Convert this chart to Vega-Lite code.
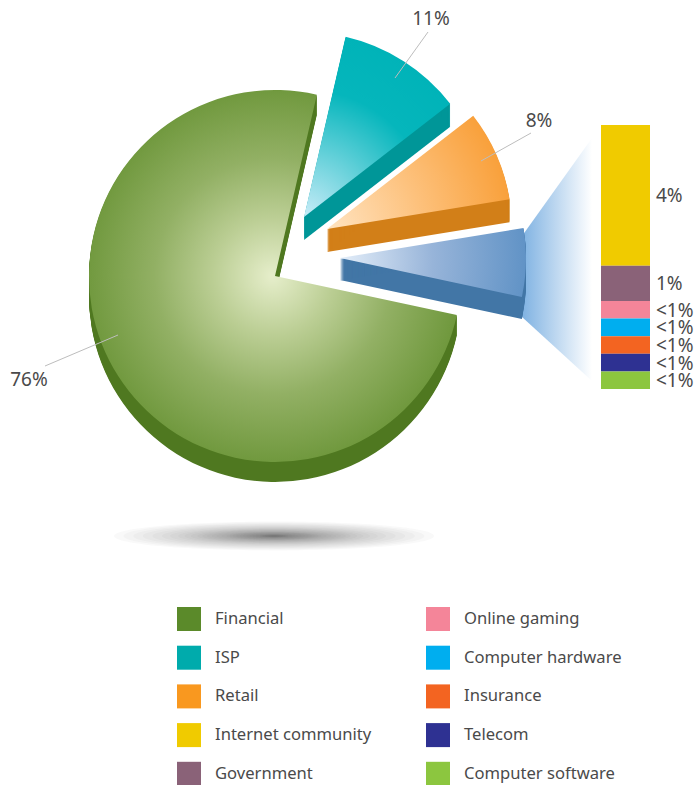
{
  "$schema": "https://vega.github.io/schema/vega-lite/v6.json",
  "width": 694,
  "height": 785,
  "padding": 0,
  "autosize": {"type": "none"},
  "background": "white",
  "config": {"view": {"stroke": null}, "font": "Noto Sans"},
  "data": {"name": "slices"},
  "datasets": {
    "slices": [
      {"sector": "ISP", "order": 1, "share": 11, "label": "11%", "levels": [1,2,3,4,5,6,7,8,9,10,11,12,13,14,15,16,17,18,19,20,21,22,23]},
      {"sector": "Retail", "order": 2, "share": 8, "label": "8%", "levels": [1,2,3,4,5,6,7,8,9,10,11,12,13,14,15,16,17,18,19,20,21,22,23]},
      {"sector": "Other", "order": 3, "share": 6, "label": "", "levels": [1,2,3,4,5,6,7,8,9,10,11,12,13,14,15,16,17,18,19,20,21,22]},
      {"sector": "Financial", "order": 4, "share": 76, "label": "76%", "levels": [1,2,3,4,5,6,7,8,9,10,11,12,13,14,15,16,17,18,19,20]}
    ],
    "segments": [
      {"sector": "Internet community", "order": 1, "share": 4, "label": "4%"},
      {"sector": "Government", "order": 2, "share": 1, "label": "1%"},
      {"sector": "Online gaming", "order": 3, "share": 0.5, "label": "<1%"},
      {"sector": "Computer hardware", "order": 4, "share": 0.5, "label": "<1%"},
      {"sector": "Insurance", "order": 5, "share": 0.5, "label": "<1%"},
      {"sector": "Telecom", "order": 6, "share": 0.5, "label": "<1%"},
      {"sector": "Computer software", "order": 7, "share": 0.5, "label": "<1%"}
    ],
    "fan": [
      {"at": 522, "upper": 236, "lower": 317},
      {"at": 592, "upper": 138, "lower": 381}
    ],
    "shadow": [
      {"spread": 0.02},{"spread": 0.03},{"spread": 0.04},{"spread": 0.05},{"spread": 0.06},
      {"spread": 0.07},{"spread": 0.08},{"spread": 0.09},{"spread": 0.1},{"spread": 0.12},
      {"spread": 0.14},{"spread": 0.16},{"spread": 0.18},{"spread": 0.2},{"spread": 0.22},
      {"spread": 0.24},{"spread": 0.26},{"spread": 0.28},{"spread": 0.3},{"spread": 0.33},
      {"spread": 0.36},{"spread": 0.39},{"spread": 0.42},{"spread": 0.45},{"spread": 0.48},
      {"spread": 0.52},{"spread": 0.56},{"spread": 0.6},{"spread": 0.65},{"spread": 0.7},
      {"spread": 0.76},{"spread": 0.82},{"spread": 0.88},{"spread": 0.94},{"spread": 1}
    ]
  },
  "transform": [
    {"stack": "share", "sort": [{"field": "order", "order": "ascending"}], "as": ["t0", "t1"]}
  ],
  "resolve": {"scale": {"y": "independent"}},
  "layer": [
    {
      "data": {"name": "shadow"},
      "mark": {"type": "point", "filled": true, "strokeWidth": 0, "opacity": 0.03, "color": "#3e3e4a", "shape": "M-1,0A1,0.09 0 1,0 1,0A1,0.09 0 1,0 -1,0Z"},
      "encoding": {
        "x": {"datum": 274, "type": "quantitative", "scale": {"domain": [0, 694], "range": [0, 694]}, "axis": null},
        "y": {"datum": 536, "type": "quantitative", "scale": {"domain": [0, 785], "range": [0, 785]}, "axis": null},
        "size": {"field": "spread", "type": "quantitative", "scale": {"type": "pow", "exponent": 2, "domain": [0, 1], "range": [0, 102400]}, "legend": null}
      }
    },
    {
      "data": {"name": "fan"},
      "mark": {"type": "area", "color": {"gradient": "linear", "x1": 0, "y1": 0, "x2": 1, "y2": 0, "stops": [{"offset": 0, "color": "#7fb2e2"}, {"offset": 1, "color": "#ffffff"}]}},
      "encoding": {
        "x": {"field": "at", "type": "quantitative", "scale": {"domain": [0, 694], "range": [0, 694]}, "axis": null},
        "y": {"field": "upper", "type": "quantitative", "stack": null, "scale": {"domain": [0, 785], "range": [0, 785]}, "axis": null},
        "y2": {"field": "lower"}
      }
    },
    {
      "transform": [{"filter": "datum.sector === 'Financial'"}, {"flatten": ["levels"]}],
      "mark": {"type": "arc", "outerRadius": 186, "color": "#4f7820"},
      "encoding": {
        "x": {"datum": 275, "type": "quantitative", "scale": {"domain": [0, 694], "range": [0, 694]}, "axis": null},
        "y": {"field": "levels", "type": "quantitative", "stack": null, "scale": {"domain": [-276, 509], "range": [0, 785]}, "axis": null},
        "theta": {"field": "t0", "type": "quantitative", "stack": null, "scale": {"domain": [0, 101], "range": [0.2269, 6.5101]}},
        "theta2": {"field": "t1"}
      }
    },
    {
      "transform": [{"filter": "datum.sector === 'Financial'"}],
      "mark": {"type": "arc", "outerRadius": 186, "color": {"gradient": "radial", "x1": 0.5, "y1": 0.5, "r1": 0, "x2": 0.5, "y2": 0.5, "r2": 0.53, "stops": [{"offset": 0, "color": "#e6eecb"}, {"offset": 0.3, "color": "#bbce94"}, {"offset": 0.6, "color": "#92b064"}, {"offset": 1, "color": "#6b9538"}]}},
      "encoding": {
        "x": {"datum": 275, "type": "quantitative", "scale": {"domain": [0, 694], "range": [0, 694]}, "axis": null},
        "y": {"datum": 276, "type": "quantitative", "scale": {"domain": [0, 785], "range": [0, 785]}, "axis": null},
        "theta": {"field": "t0", "type": "quantitative", "stack": null, "scale": {"domain": [0, 101], "range": [0.2269, 6.5101]}},
        "theta2": {"field": "t1"}
      }
    },
    {
      "transform": [{"filter": "datum.sector === 'ISP'"}, {"flatten": ["levels"]}],
      "mark": {"type": "arc", "outerRadius": 185, "color": "#009698"},
      "encoding": {
        "x": {"datum": 304, "type": "quantitative", "scale": {"domain": [0, 694], "range": [0, 694]}, "axis": null},
        "y": {"field": "levels", "type": "quantitative", "stack": null, "scale": {"domain": [-217, 568], "range": [0, 785]}, "axis": null},
        "theta": {"field": "t0", "type": "quantitative", "stack": null, "scale": {"domain": [0, 101], "range": [0.2269, 6.5101]}},
        "theta2": {"field": "t1"}
      }
    },
    {
      "transform": [{"filter": "datum.sector === 'ISP'"}],
      "mark": {"type": "arc", "outerRadius": 185, "color": {"gradient": "radial", "x1": 0.1, "y1": 1, "r1": 0, "x2": 0.1, "y2": 1, "r2": 1.04, "stops": [{"offset": 0, "color": "#c8ecf8"}, {"offset": 0.68, "color": "#05b6bc"}, {"offset": 1, "color": "#00b3b8"}]}},
      "encoding": {
        "x": {"datum": 304, "type": "quantitative", "scale": {"domain": [0, 694], "range": [0, 694]}, "axis": null},
        "y": {"datum": 217, "type": "quantitative", "scale": {"domain": [0, 785], "range": [0, 785]}, "axis": null},
        "theta": {"field": "t0", "type": "quantitative", "stack": null, "scale": {"domain": [0, 101], "range": [0.2269, 6.5101]}},
        "theta2": {"field": "t1"}
      }
    },
    {
      "transform": [{"filter": "datum.sector === 'Retail'"}, {"flatten": ["levels"]}],
      "mark": {"type": "arc", "outerRadius": 185, "color": "#d27f18"},
      "encoding": {
        "x": {"datum": 327, "type": "quantitative", "scale": {"domain": [0, 694], "range": [0, 694]}, "axis": null},
        "y": {"field": "levels", "type": "quantitative", "stack": null, "scale": {"domain": [-229, 556], "range": [0, 785]}, "axis": null},
        "theta": {"field": "t0", "type": "quantitative", "stack": null, "scale": {"domain": [0, 101], "range": [0.2269, 6.5101]}},
        "theta2": {"field": "t1"}
      }
    },
    {
      "transform": [{"filter": "datum.sector === 'Retail'"}],
      "mark": {"type": "arc", "outerRadius": 185, "color": {"gradient": "radial", "x1": 0, "y1": 0.82, "r1": 0, "x2": 0, "y2": 0.82, "r2": 1.01, "stops": [{"offset": 0, "color": "#ffe4c2"}, {"offset": 0.5, "color": "#fdc27e"}, {"offset": 1, "color": "#f9a13c"}]}},
      "encoding": {
        "x": {"datum": 327, "type": "quantitative", "scale": {"domain": [0, 694], "range": [0, 694]}, "axis": null},
        "y": {"datum": 229, "type": "quantitative", "scale": {"domain": [0, 785], "range": [0, 785]}, "axis": null},
        "theta": {"field": "t0", "type": "quantitative", "stack": null, "scale": {"domain": [0, 101], "range": [0.2269, 6.5101]}},
        "theta2": {"field": "t1"}
      }
    },
    {
      "transform": [{"filter": "datum.sector === 'Other'"}, {"flatten": ["levels"]}],
      "mark": {"type": "arc", "outerRadius": 186, "color": "#4276a6"},
      "encoding": {
        "x": {"datum": 340, "type": "quantitative", "scale": {"domain": [0, 694], "range": [0, 694]}, "axis": null},
        "y": {"field": "levels", "type": "quantitative", "stack": null, "scale": {"domain": [-258, 527], "range": [0, 785]}, "axis": null},
        "theta": {"field": "t0", "type": "quantitative", "stack": null, "scale": {"domain": [0, 101], "range": [0.2269, 6.5101]}},
        "theta2": {"field": "t1"}
      }
    },
    {
      "transform": [{"filter": "datum.sector === 'Other'"}],
      "mark": {"type": "arc", "outerRadius": 186, "color": {"gradient": "radial", "x1": 0, "y1": 0.49, "r1": 0, "x2": 0, "y2": 0.49, "r2": 1, "stops": [{"offset": 0, "color": "#e4eef9"}, {"offset": 0.5, "color": "#97b4d9"}, {"offset": 1, "color": "#6193c6"}]}},
      "encoding": {
        "x": {"datum": 340, "type": "quantitative", "scale": {"domain": [0, 694], "range": [0, 694]}, "axis": null},
        "y": {"datum": 258, "type": "quantitative", "scale": {"domain": [0, 785], "range": [0, 785]}, "axis": null},
        "theta": {"field": "t0", "type": "quantitative", "stack": null, "scale": {"domain": [0, 101], "range": [0.2269, 6.5101]}},
        "theta2": {"field": "t1"}
      }
    },
    {
      "transform": [{"filter": "datum.sector === 'ISP'"}],
      "mark": {"type": "rule", "color": "#bdbdbd", "strokeWidth": 1},
      "encoding": {
        "x": {"datum": 395, "type": "quantitative", "scale": {"domain": [0, 694], "range": [0, 694]}, "axis": null},
        "x2": {"datum": 428},
        "y": {"datum": 78, "type": "quantitative", "scale": {"domain": [0, 785], "range": [0, 785]}, "axis": null},
        "y2": {"datum": 32}
      }
    },
    {
      "transform": [{"filter": "datum.sector === 'Retail'"}],
      "mark": {"type": "rule", "color": "#bdbdbd", "strokeWidth": 1},
      "encoding": {
        "x": {"datum": 481, "type": "quantitative", "scale": {"domain": [0, 694], "range": [0, 694]}, "axis": null},
        "x2": {"datum": 531},
        "y": {"datum": 161, "type": "quantitative", "scale": {"domain": [0, 785], "range": [0, 785]}, "axis": null},
        "y2": {"datum": 133}
      }
    },
    {
      "transform": [{"filter": "datum.sector === 'Financial'"}],
      "mark": {"type": "rule", "color": "#bdbdbd", "strokeWidth": 1},
      "encoding": {
        "x": {"datum": 118, "type": "quantitative", "scale": {"domain": [0, 694], "range": [0, 694]}, "axis": null},
        "x2": {"datum": 45},
        "y": {"datum": 335, "type": "quantitative", "scale": {"domain": [0, 785], "range": [0, 785]}, "axis": null},
        "y2": {"datum": 366}
      }
    },
    {
      "transform": [{"filter": "datum.sector === 'ISP'"}],
      "mark": {"type": "text", "fontSize": 19, "color": "#4a4a4a", "align": "center", "baseline": "middle"},
      "encoding": {
        "x": {"datum": 431, "type": "quantitative", "scale": {"domain": [0, 694], "range": [0, 694]}, "axis": null},
        "y": {"datum": 19, "type": "quantitative", "scale": {"domain": [0, 785], "range": [0, 785]}, "axis": null},
        "text": {"field": "label"}
      }
    },
    {
      "transform": [{"filter": "datum.sector === 'Retail'"}],
      "mark": {"type": "text", "fontSize": 19, "color": "#4a4a4a", "align": "center", "baseline": "middle"},
      "encoding": {
        "x": {"datum": 539, "type": "quantitative", "scale": {"domain": [0, 694], "range": [0, 694]}, "axis": null},
        "y": {"datum": 121, "type": "quantitative", "scale": {"domain": [0, 785], "range": [0, 785]}, "axis": null},
        "text": {"field": "label"}
      }
    },
    {
      "transform": [{"filter": "datum.sector === 'Financial'"}],
      "mark": {"type": "text", "fontSize": 19, "color": "#4a4a4a", "align": "center", "baseline": "middle"},
      "encoding": {
        "x": {"datum": 29, "type": "quantitative", "scale": {"domain": [0, 694], "range": [0, 694]}, "axis": null},
        "y": {"datum": 380, "type": "quantitative", "scale": {"domain": [0, 785], "range": [0, 785]}, "axis": null},
        "text": {"field": "label"}
      }
    },
    {
      "data": {"name": "segments"},
      "transform": [
        {"stack": "share", "sort": [{"field": "order", "order": "ascending"}], "as": ["s0", "s1"]}
      ],
      "mark": {"type": "rect"},
      "encoding": {
        "x": {"datum": 601, "type": "quantitative", "scale": {"domain": [0, 694], "range": [0, 694]}, "axis": null},
        "x2": {"datum": 650},
        "y": {"field": "s0", "type": "quantitative", "scale": {"domain": [0, 7.5], "range": [125, 389]}, "axis": null},
        "y2": {"field": "s1"},
        "color": {
          "field": "sector",
          "type": "nominal",
          "scale": {
            "domain": ["Financial", "ISP", "Retail", "Internet community", "Government", "Online gaming", "Computer hardware", "Insurance", "Telecom", "Computer software"],
            "range": ["#5b8a2a", "#00abac", "#f9981f", "#f0cb00", "#8a6278", "#f48599", "#00aeef", "#f36421", "#2e3192", "#8cc63f"]
          },
          "legend": {
            "title": null,
            "orient": "none",
            "legendX": 177,
            "legendY": 607,
            "direction": "vertical",
            "columns": 2,
            "symbolType": "square",
            "symbolSize": 576,
            "symbolStrokeWidth": 0,
            "symbolOpacity": 1,
            "labelFontSize": 16.6,
            "labelFont": "Noto Sans",
            "labelColor": "#4a4a4a",
            "labelOffset": 14,
            "labelLimit": 300,
            "columnPadding": 54,
            "rowPadding": 14.7,
            "padding": 0
          }
        }
      }
    },
    {
      "data": {"name": "segments"},
      "transform": [
        {"stack": "share", "sort": [{"field": "order", "order": "ascending"}], "as": ["s0", "s1"]},
        {"calculate": "(datum.s0 + datum.s1) / 2", "as": "middle"}
      ],
      "mark": {"type": "text", "fontSize": 19, "color": "#4a4a4a", "align": "left", "baseline": "middle", "dy": 1},
      "encoding": {
        "x": {"datum": 656, "type": "quantitative", "scale": {"domain": [0, 694], "range": [0, 694]}, "axis": null},
        "y": {"field": "middle", "type": "quantitative", "scale": {"domain": [0, 7.5], "range": [125, 389]}, "axis": null},
        "text": {"field": "label"}
      }
    }
  ]
}
